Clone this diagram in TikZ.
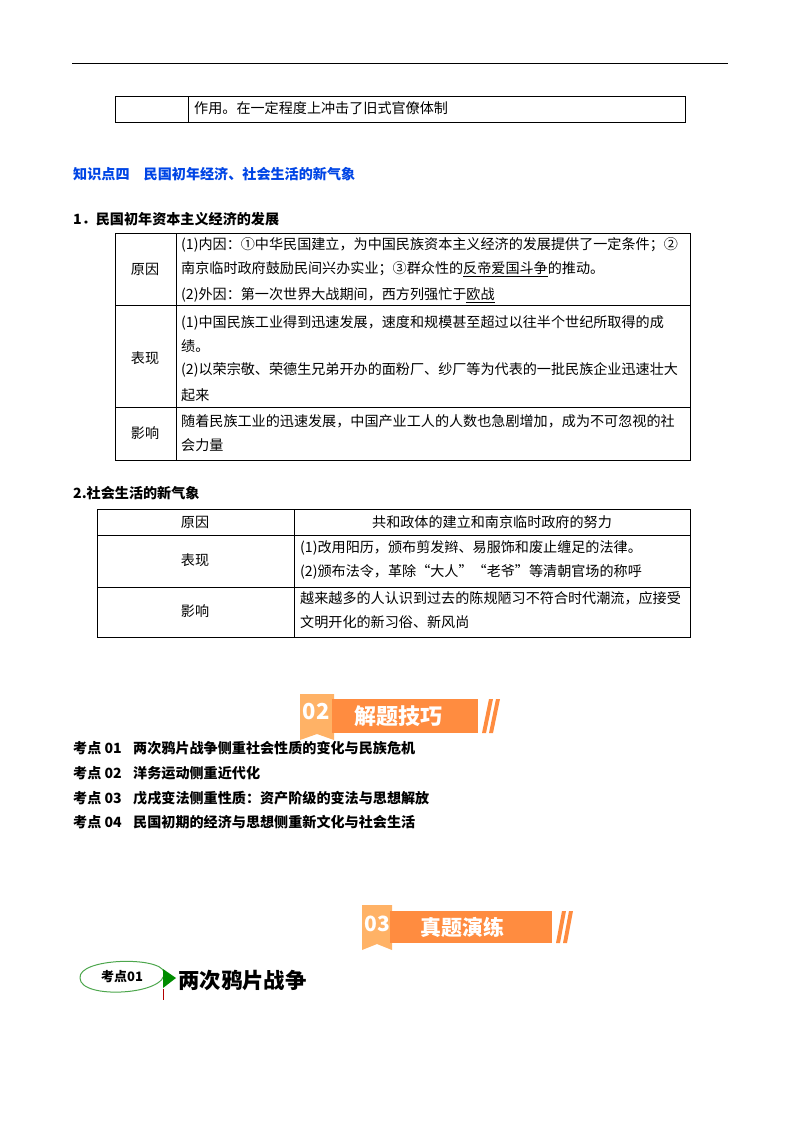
\documentclass[tikz,border=0pt]{standalone}
\usepackage{fontspec}
\setmainfont{Noto Sans CJK SC}
\begin{document}
\begin{tikzpicture}[x=1pt,y=-1pt,
  tx/.style={anchor=west,inner sep=0,font=\fontsize{14.1}{16}\selectfont},
  ctr/.style={inner sep=0,font=\fontsize{14.1}{16}\selectfont},
  bd/.style={anchor=west,inner sep=0,font=\fontsize{14.1}{16}\selectfont\bfseries},
  grid/.style={draw=black,line width=0.7pt}]
\useasboundingbox (0,0) rectangle (800,1132);
\draw[line width=0.8pt] (72,63) -- (728,63);
% top table fragment
\draw[grid] (115,96) rectangle (685,122) (188,96) -- (188,122);
\node[tx] (t0) at (194,108) {作用。在一定程度上冲击了旧式官僚体制};
% section heading
\node[bd,text=blue!70!cyan!90!black] (h4) at (73,174) {知识点四\quad 民国初年经济、社会生活的新气象};
\node[bd] (h1) at (73,219) {1．民国初年资本主义经济的发展};
% table 2
\draw[grid] (115,233) rectangle (690,460) (176,233) -- (176,460) (115,305) -- (690,305) (115,407) -- (690,407);
\node[ctr] (a1) at (145,269) {原因};
\node[ctr] (a2) at (145,358) {表现};
\node[ctr] (a3) at (145,433) {影响};
\node[tx] (b1) at (181,245) {(1)内因：①中华民国建立，为中国民族资本主义经济的发展提供了一定条件；②};
\node[tx] (b2) at (181,269) {南京临时政府鼓励民间兴办实业；③群众性的\underline{反帝爱国斗争}的推动。};
\node[tx] (b3) at (181,295) {(2)外因：第一次世界大战期间，西方列强忙于\underline{欧战}};
\node[tx] (c1) at (181,323) {(1)中国民族工业得到迅速发展，速度和规模甚至超过以往半个世纪所取得的成};
\node[tx] (c2) at (181,346) {绩。};
\node[tx] (c3) at (181,370) {(2)以荣宗敬、荣德生兄弟开办的面粉厂、纱厂等为代表的一批民族企业迅速壮大};
\node[tx] (c4) at (181,395) {起来};
\node[tx] (d1) at (181,421) {随着民族工业的迅速发展，中国产业工人的人数也急剧增加，成为不可忽视的社};
\node[tx] (d2) at (181,445) {会力量};
% table 3
\node[bd] (h2) at (73,493) {2.社会生活的新气象};
\draw[grid] (97,509) rectangle (690,637) (294,509) -- (294,637) (97,535) -- (690,535) (97,587) -- (690,587);
\node[ctr] (e1) at (195,522) {原因};
\node[ctr] (e2) at (492,522) {共和政体的建立和南京临时政府的努力};
\node[ctr] (f1) at (195,560) {表现};
\node[tx] (f2) at (300,548) {(1)改用阳历，颁布剪发辫、易服饰和废止缠足的法律。};
\node[tx] (f3) at (300,572) {(2)颁布法令，革除“大人”“老爷”等清朝官场的称呼};
\node[ctr] (g1) at (195,611) {影响};
\node[tx] (g2) at (300,598) {越来越多的人认识到过去的陈规陋习不符合时代潮流，应接受};
\node[tx] (g3) at (300,622) {文明开化的新习俗、新风尚};
% banner 02
\fill[orange!60] (300,694) -- (334,694) -- (334,740) -- (317,734) -- (300,740) -- cycle;
\fill[orange!80!red!75] (332,699) rectangle (478,733);
\fill[orange!80!red!75] (482,733) -- (489,699) -- (493,699) -- (486,733) -- cycle;
\fill[orange!80!red!75] (489,733) -- (496,699) -- (500,699) -- (493,733) -- cycle;
\node[inner sep=0,text=white,font=\fontsize{22}{22}\selectfont\bfseries] (n2) at (316,712) {02};
\node[inner sep=0,text=white,font=\fontsize{22}{22}\selectfont\bfseries] (m2) at (398,716) {解题技巧};
% list
\foreach \y/\t [count=\i] in {748/两次鸦片战争侧重社会性质的变化与民族危机,773/洋务运动侧重近代化,798/戊戌变法侧重性质：资产阶级的变法与思想解放,822/民国初期的经济与思想侧重新文化与社会生活}{
  \node[bd] (k\i) at (73,\y) {考点 0\i};
  \node[bd] (kt\i) at (133,\y) {\t};}
% banner 03
\fill[orange!60] (362,905) -- (392,905) -- (392,950) -- (377,944) -- (362,950) -- cycle;
\fill[orange!80!red!75] (390,911) rectangle (552,943);
\fill[orange!80!red!75] (556,943) -- (562,911) -- (566,911) -- (560,943) -- cycle;
\fill[orange!80!red!75] (563,943) -- (569,911) -- (573,911) -- (567,943) -- cycle;
\node[inner sep=0,text=white,font=\fontsize{21}{21}\selectfont\bfseries] (n3) at (377,924) {03};
\node[inner sep=0,text=white,font=\fontsize{21}{21}\selectfont\bfseries] (m3) at (462,927) {真题演练};
% badge
\draw[green!50!black!70,line width=1pt] (80,978) .. controls (78,958) and (160,956) .. (164,972) .. controls (168,995) and (80,1000) .. (80,978);
\fill[green!55!black] (163,969) -- (176,978) -- (163,988) -- cycle;
\draw[red!70!black,line width=0.8pt] (163,989) -- (163,1000);
\node[inner sep=0,font=\fontsize{13}{14}\selectfont\bfseries] (bd1) at (122,977) {考点01};
\node[anchor=west,inner sep=0,font=\fontsize{21.4}{22}\selectfont\bfseries] (bt) at (178,980) {两次鸦片战争};
\end{tikzpicture}
\end{document}
